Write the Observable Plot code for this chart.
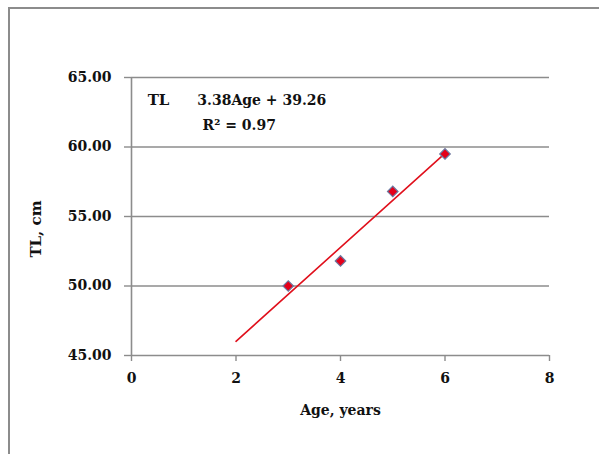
<!DOCTYPE html>
<html>
<head>
<meta charset="utf-8">
<script src="https://cdn.jsdelivr.net/npm/d3@7"></script>
<script src="https://cdn.jsdelivr.net/npm/@observablehq/plot@0.6"></script>
<style>
  html, body { margin: 0; padding: 0; background: #fff; overflow: hidden; }
  #wrap { position: relative; width: 599px; height: 454px; }
  #border { position: absolute; left: 8px; top: 7px; width: 640px; height: 500px;
            border-top: 2px solid #8c8c8c; border-left: 2px solid #8c8c8c; pointer-events: none; }
  svg, svg text, svg g { font-family: "DejaVu Serif", "Liberation Serif", serif !important; font-weight: bold; }
</style>
</head>
<body>
<div id="wrap"><div id="border"></div></div>
<script>
// Data
const ages = [3, 4, 5, 6];
const tl = [50.0, 51.8, 56.8, 59.5];
const trendAge = [2, 6];
const trendTL = [46.02, 59.54];
const xTicks = [0, 2, 4, 6, 8];
const yTicks = [45, 50, 55, 60, 65];
const xLabel = "Age, years";
const yLabel = "TL, cm";
const eqName = "TL";
const eqText = "3.38Age + 39.26";
const r2Text = "R² = 0.97";

const points = ages.map((a, i) => ({age: a, tl: tl[i]}));
const trend = trendAge.map((a, i) => ({age: a, tl: trendTL[i]}));

const chart = Plot.plot({
  width: 599,
  height: 454,
  marginLeft: 131,
  marginRight: 50,
  marginTop: 77,
  marginBottom: 99,
  style: {fontFamily: "'DejaVu Serif', serif", fontSize: "14px", color: "#111", background: "transparent"},
  x: {domain: [0, 8], ticks: xTicks},
  y: {domain: [45, 65], ticks: yTicks},
  marks: [
    Plot.gridY(yTicks.slice(1), {stroke: "#8c8c8c", strokeOpacity: 1, strokeWidth: 1.6}),
    Plot.ruleX([0], {stroke: "#8c8c8c", strokeWidth: 1.6}),
    Plot.ruleY([45], {stroke: "#8c8c8c", strokeWidth: 1.6}),
    Plot.axisY({ticks: yTicks, tickFormat: d3.format(".2f"), tickSize: 7, tickPadding: 13,
                stroke: "#8c8c8c", strokeWidth: 1.4, label: null, fontSize: 14, fontWeight: "bold"}),
    Plot.axisX({ticks: xTicks, tickFormat: d3.format("d"), tickSize: 6, tickPadding: 12,
                stroke: "#8c8c8c", strokeWidth: 1.4, label: null, fontSize: 14, fontWeight: "bold"}),
    Plot.line(trend, {x: "age", y: "tl", stroke: "#e0101c", strokeWidth: 1.6}),
    Plot.dot(points, {x: "age", y: "tl", symbol: "square", r: 4.2, rotate: 45,
                      fill: "#e5001a", stroke: "#6a78a0", strokeWidth: 1.2}),
    Plot.text([eqName], {x: 0.31, y: 63.35, text: d => d, textAnchor: "start", fontSize: 15, fontWeight: "bold"}),
    Plot.text([eqText], {x: 1.26, y: 63.35, text: d => d, textAnchor: "start", fontSize: 14, fontWeight: "bold"}),
    Plot.text([r2Text], {x: 1.36, y: 61.55, text: d => d, textAnchor: "start", fontSize: 14, fontWeight: "bold"}),
    Plot.text([xLabel], {frameAnchor: "bottom", dy: 59, text: d => d, fontSize: 14, fontWeight: "bold"}),
    Plot.text([yLabel], {x: () => -1.82, y: () => 54.1, rotate: -90, text: d => d, fontSize: 15, fontWeight: "bold", clip: false})
  ]
});
document.getElementById("wrap").appendChild(chart);
chart.style.position = "absolute";
chart.style.left = "0";
chart.style.top = "0";
</script>
</body>
</html>
